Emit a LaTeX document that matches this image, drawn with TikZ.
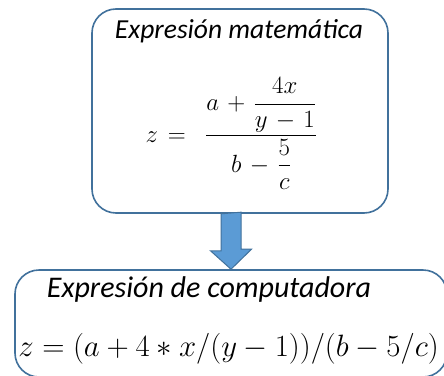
\documentclass[tikz,border=0pt]{standalone}
\usepackage{amsmath}
\usepackage{fontspec}
\setmainfont{Carlito}
\usetikzlibrary{calc}
\definecolor{boxline}{HTML}{41719C}
\definecolor{arrowfill}{HTML}{5B9BD5}

\begin{document}
\begin{tikzpicture}[
  x=1pt, y=-1pt,
  box/.style={
    rectangle, draw=boxline, line width=1.6pt, rounded corners=24pt,
    fill=white
  },
  title/.style={font=\fontsize{27.5}{32}\selectfont\itshape, inner sep=0pt},
  formula/.style={
    font=\fontsize{24.88}{30}\selectfont, inner sep=0pt,
    execute at begin node={\medmuskip=6mu\thickmuskip=7mu}
  },
  bigarr/.style={draw=boxline, line width=1pt, fill=arrowfill}
]
\useasboundingbox (0,0) rectangle (444,375);

\node[box, minimum width=296pt, minimum height=204pt] (math) at (240,111) {};
\node[title, anchor=base] (mathtitle) at (239,38) {Expresión matemática};
\node[formula, anchor=base] (mathexpr) at (231.5,142)
  {$z = \;\dfrac{a+\dfrac{4x}{y-1}}{b-\dfrac{5}{c}}$};

\node[box, minimum width=432pt, minimum height=107pt] (comp) at (231,323.5) {};
\node[title, font=\fontsize{30}{34}\selectfont\itshape, anchor=base] (comptitle)
  at (209,297) {Expresión de computadora};
\node[formula, anchor=base,
  execute at begin node={\medmuskip=4mu\thickmuskip=5mu}] (compexpr)
  at (228.5,356) {\scalebox{1.24}{$z=(a+4*x/(y-1))/(b-5/c)$}};

% arrow between the two boxes
\draw[bigarr] ($(comp.north |- math.south)+(-10,0)$) -- ++(0,37) -- ++(-10.5,0)
  -- (comp.north) -- ++(20.5,-20) -- ++(-10.5,0) -- ++(0,-37) -- cycle;

\end{tikzpicture}
\end{document}
